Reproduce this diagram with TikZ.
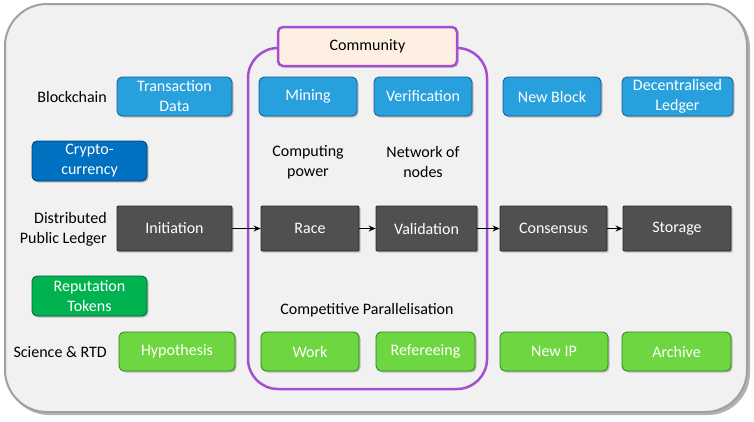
\documentclass[tikz,border=0pt]{standalone}
\usepackage{fontspec}
\setmainfont{Carlito}
\usetikzlibrary{shadows,arrows.meta}
\definecolor{bgfill}{RGB}{242,241,241}
\definecolor{bgline}{RGB}{160,160,160}
\definecolor{bluel}{RGB}{41,160,222}
\definecolor{bluelb}{RGB}{20,90,140}
\definecolor{blued}{RGB}{0,112,192}
\definecolor{bluedb}{RGB}{0,60,110}
\definecolor{grayb}{RGB}{80,80,80}
\definecolor{graybb}{RGB}{40,40,40}
\definecolor{greenl}{RGB}{110,214,64}
\definecolor{greenlb}{RGB}{40,130,30}
\definecolor{greend}{RGB}{0,178,80}
\definecolor{greendb}{RGB}{0,100,50}
\definecolor{purp}{RGB}{164,80,206}
\definecolor{peach}{RGB}{253,239,226}
\tikzset{
  base/.style={inner sep=0pt, align=center, text=white, font=\fontsize{16}{20}\selectfont,
    line width=0.8pt, drop shadow={shadow xshift=1.5pt, shadow yshift=-1.5pt, opacity=0.45}},
  bbox/.style={base, rounded corners=5pt, fill=bluel, draw=bluelb, minimum height=39pt},
  dbbox/.style={base, rounded corners=5pt, fill=blued, draw=bluedb, minimum height=40pt, minimum width=115pt},
  gbox/.style={base, rounded corners=1pt, fill=grayb, draw=graybb, minimum height=45pt},
  lgbox/.style={base, rounded corners=5pt, fill=greenl, draw=greenlb, minimum height=39pt},
  dgbox/.style={base, rounded corners=5pt, fill=greend, draw=greendb, minimum height=40pt, minimum width=115pt},
  lab/.style={inner sep=0pt, font=\fontsize{16}{20}\selectfont, text=black},
  arr/.style={-{Stealth[length=7pt,width=6pt]}, line width=1.8pt, black}
}
\begin{document}
\begin{tikzpicture}[x=1pt,y=-1pt]
\useasboundingbox (0,0) rectangle (754,421);
% outer panel
\fill[black!30, rounded corners=42pt] (7,6) rectangle (750,415);
\draw[bgline, fill=bgfill, line width=2pt, rounded corners=42pt] (5,4) rectangle (747,412);
% community frame
\draw[purp, line width=2.5pt, rounded corners=30pt] (248,48) rectangle (487,389);
\node[inner sep=0pt, minimum width=179pt, minimum height=39pt, rounded corners=5pt, fill=peach, draw=purp, line width=2.5pt, font=\fontsize{16}{20}\selectfont, drop shadow={shadow xshift=1.5pt, shadow yshift=-1.5pt, opacity=0.4}] (comm) at (367.5,46.5) {Community};
% blockchain row
\node[bbox, minimum width=115pt] (trans) at (174.5,96.5) {Transaction\\Data};
\node[bbox, minimum width=98pt] (mining) at (308,96.5) {Mining};
\node[bbox, minimum width=98pt] (verif) at (423,96.5) {Verification};
\node[bbox, minimum width=98pt] (newblock) at (552,96.5) {New Block};
\node[bbox, minimum width=111pt] (decled) at (677.5,96.5) {Decentralised\\Ledger};
\node[dbbox] (crypto) at (89.5,161) {Crypto-\\currency};
% ledger row
\node[gbox, minimum width=115pt] (init) at (174.5,228.5) {Initiation};
\node[gbox, minimum width=98pt] (race) at (310,228.5) {Race};
\node[gbox, minimum width=101pt] (valid) at (426.5,228.5) {Validation};
\node[gbox, minimum width=107pt] (cons) at (553.5,228.5) {Consensus};
\node[gbox, minimum width=108pt] (stor) at (677,228.5) {Storage};
% science row
\node[dgbox] (rep) at (89.5,296) {Reputation\\Tokens};
\node[lgbox, minimum width=116pt] (hyp) at (177,351.5) {Hypothesis};
\node[lgbox, minimum width=98pt] (work) at (310,351.5) {Work};
\node[lgbox, minimum width=99pt] (ref) at (425.5,351.5) {Refereeing};
\node[lgbox, minimum width=108pt] (newip) at (554,351.5) {New IP};
\node[lgbox, minimum width=109pt] (arch) at (676.5,351.5) {Archive};
% labels
\node[lab, anchor=east] (lblock) at (107,97) {Blockchain};
\node[lab, anchor=east, align=right] (lled) at (107,229) {Distributed\\Public Ledger};
\node[lab, anchor=east] (lsci) at (107,352) {Science \& RTD};
\node[lab, align=center] (lcomp) at (308,162) {Computing\\power};
\node[lab, align=center] (lnet) at (423,162) {Network of\\nodes};
\node[lab] (lpar) at (367,310) {Competitive Parallelisation};
% arrows
\draw[arr] (init) -- (race);
\draw[arr] (race) -- (valid);
\draw[arr] (valid) -- (cons);
\draw[arr] (cons) -- (stor);
\end{tikzpicture}
\end{document}
